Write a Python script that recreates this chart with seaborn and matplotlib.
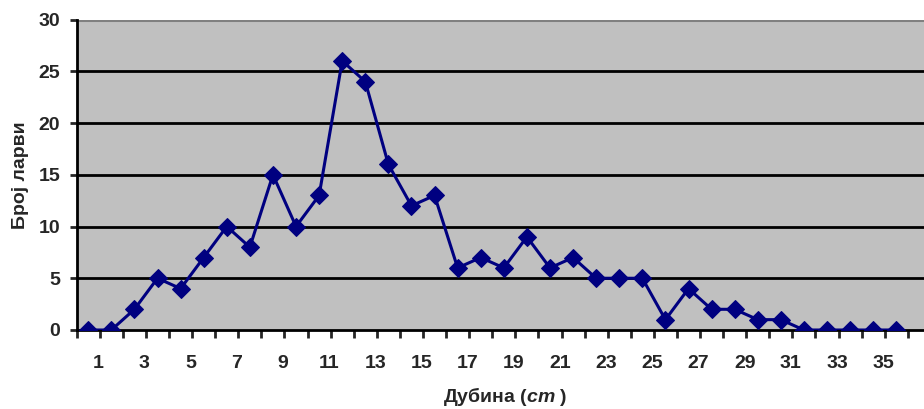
import matplotlib
matplotlib.use("Agg")
import matplotlib.pyplot as plt
import matplotlib.transforms as mtransforms
import seaborn as sns
import pandas as pd

# depth categories (cm) and number of larvae
depth = list(range(1, 37))
larvae = [0, 0, 2, 5, 4, 7, 10, 8, 15, 10, 13, 26, 24, 16, 12, 13, 6, 7,
          6, 9, 6, 7, 5, 5, 5, 1, 4, 2, 2, 1, 1, 0, 0, 0, 0, 0]
xtick_vals = list(range(1, 36, 2))
ytick_vals = [0, 5, 10, 15, 20, 25, 30]

df = pd.DataFrame({"depth": depth, "larvae": larvae})

sns.set_style("white")
plt.rcParams["font.family"] = ["Liberation Sans", "DejaVu Sans"]
plt.rcParams["font.weight"] = "bold"
plt.rcParams["mathtext.fontset"] = "custom"
plt.rcParams["mathtext.it"] = "Liberation Sans:italic:bold"
plt.rcParams["mathtext.rm"] = "Liberation Sans:bold"

fs = 14

fig = plt.figure(figsize=(9.24, 4.09), dpi=100)
ax = fig.add_axes([76.7 / 924, 1 - 330 / 409, 1 - 76.7 / 924, 310.5 / 409])
ax.set_facecolor("#c0c0c0")

for v in ytick_vals[1:-1]:
    ax.axhline(v, color="black", lw=2, zorder=1)
ax.axhline(30, color="#808080", lw=2.2, zorder=1)

sns.lineplot(data=df, x="depth", y="larvae", ax=ax, color="#000080",
             lw=2.2, marker="D", markersize=9, markeredgecolor="#000080",
             zorder=3)

ax.set_xlim(0.5, 37.2)
ax.set_ylim(0, 30)

ax.set_yticks(ytick_vals)
ax.set_yticklabels([str(v) for v in ytick_vals])
ax.tick_params(axis="y", direction="out", length=5, width=2, pad=7,
               labelsize=fs, left=True)

ax.set_xticks(xtick_vals)
ax.set_xticklabels([str(v) for v in xtick_vals])
ax.set_xticks([d + 0.5 for d in [0] + depth], minor=True)
ax.tick_params(axis="x", which="major", length=0, pad=18, labelsize=fs)
ax.tick_params(axis="x", which="minor", direction="out", length=6, width=2,
               bottom=True)
shift = mtransforms.ScaledTranslation(10 / 100, 0, fig.dpi_scale_trans)
for lbl in ax.get_xticklabels():
    lbl.set_transform(lbl.get_transform() + shift)

for side in ["top", "right"]:
    ax.spines[side].set_visible(False)
ax.spines["left"].set_linewidth(2)
ax.spines["bottom"].set_linewidth(2)
ax.spines["left"].set_color("black")
ax.spines["bottom"].set_color("black")

ax.set_xlabel(r"Дубина ($\mathit{cm}$ )", fontsize=fs, fontweight="bold")
ax.set_ylabel("Број ларви", fontsize=fs, fontweight="bold")
ax.xaxis.set_label_coords((505 - 76.7) / 847.3, -0.178)
ax.yaxis.set_label_coords(-0.056, 0.5)

fig.savefig("out.png", dpi=100)
